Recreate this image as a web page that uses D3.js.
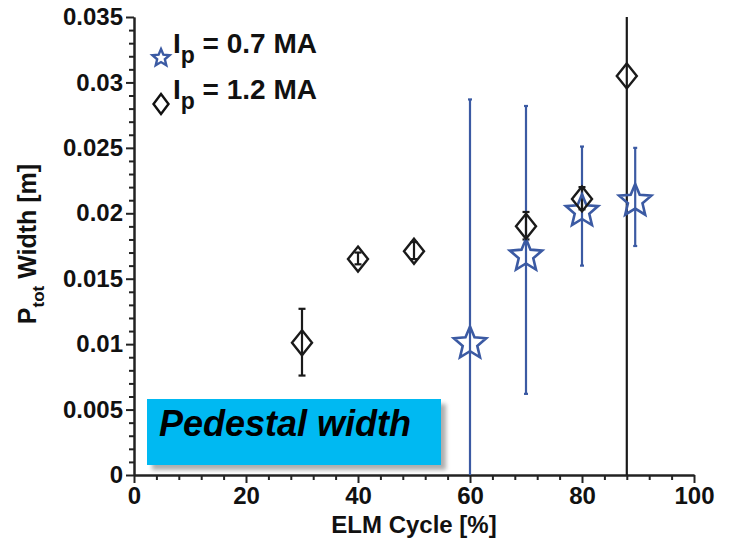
<!DOCTYPE html>
<html><head><meta charset="utf-8">
<script src="https://cdn.jsdelivr.net/npm/d3@7"></script>
<style>
html,body{margin:0;padding:0;background:#fff;}
svg text{font-family:"Liberation Sans",Arial,Helvetica,sans-serif;font-weight:bold;}
</style></head><body>
<svg id="c" width="729" height="545"></svg>
<script>
// ---- data ----
const diamondX  = [30, 40, 50, 70, 80, 88];
const diamondY  = [0.0101, 0.0165, 0.0171, 0.0190, 0.0211, 0.0305];
const diamondLo = [0.0076, 0.0161, 0.0165, 0.0180, 0.0203, 0.0];
const diamondHi = [0.0127, 0.0170, 0.0178, 0.0201, 0.0220, 0.035];
const starX  = [60, 70, 80, 89.5];
const starY  = [0.0102, 0.0169, 0.0203, 0.0211];
const starLo = [0.0, 0.0062, 0.0160, 0.0175];
const starHi = [0.0287, 0.0282, 0.0251, 0.0250];
const xTicks = [0, 20, 40, 60, 80, 100];
const yTicks = [0, 0.005, 0.01, 0.015, 0.02, 0.025, 0.03, 0.035];
const yTickLabels = ["0", "0.005", "0.01", "0.015", "0.02", "0.025", "0.03", "0.035"];
const legendLabels = ["0.7 MA", "1.2 MA"];
const annotation = "Pedestal width";

const blue = "#3b5aa3";
const svg = d3.select("#c");
const x = d3.scaleLinear().domain([0, 100]).range([134, 694]);
const y = d3.scaleLinear().domain([0, 0.035]).range([475, 17]);

// axes
const xMinor = d3.range(0, 101, 4).filter(v => xTicks.indexOf(v) < 0);
const yMinor = d3.range(0, 36, 1).map(v => v / 1000).filter(v => !yTicks.some(t => Math.abs(t - v) < 1e-9));

const gx = svg.append("g").attr("transform", `translate(0,${y(0)})`);
gx.call(d3.axisBottom(x).tickValues(xMinor).tickSize(5).tickFormat("").tickSizeOuter(0));
gx.call(g => g.append("g").call(d3.axisBottom(x).tickValues(xTicks).tickSize(8).tickPadding(4).tickSizeOuter(0)));
gx.selectAll("text").attr("font-size", 24).attr("fill", "#111").attr("font-family", "Liberation Sans, Arial").attr("font-weight", "bold");
gx.selectAll("path,line").attr("stroke", "#222").attr("stroke-width", 2);

const gy = svg.append("g").attr("transform", `translate(${x(0)},0)`);
gy.call(d3.axisLeft(y).tickValues(yMinor).tickSize(5).tickFormat("").tickSizeOuter(0));
gy.call(g => g.append("g").call(d3.axisLeft(y).tickValues(yTicks).tickSize(8).tickPadding(3)
   .tickFormat((d, i) => yTickLabels[i]).tickSizeOuter(0)));
gy.selectAll("text").attr("font-size", 24).attr("fill", "#111").attr("font-family", "Liberation Sans, Arial").attr("font-weight", "bold");
gy.selectAll("path,line").attr("stroke", "#222").attr("stroke-width", 2);

// axis titles
svg.append("text").attr("x", (x(0) + x(100)) / 2).attr("y", 533).attr("text-anchor", "middle")
  .attr("font-size", 24).attr("fill", "#111").text("ELM Cycle [%]");
const yt = svg.append("text").attr("transform", `translate(36,${(y(0) + y(0.035)) / 2 - 2}) rotate(-90)`)
  .attr("text-anchor", "middle").attr("font-size", 25).attr("fill", "#111");
yt.append("tspan").text("P");
yt.append("tspan").attr("font-size", 17).attr("dy", 8).text("tot");
yt.append("tspan").attr("dy", -8).text(" Width [m]");

// annotation box
const bx = 147, byTop = 399, bw = 294, bh = 66;
svg.append("rect").attr("x", bx + 5).attr("y", byTop + 5).attr("width", bw).attr("height", bh)
  .attr("fill", "#9a9a9a").attr("opacity", 0.8).style("filter", "blur(2px)");
svg.append("rect").attr("x", bx).attr("y", byTop).attr("width", bw).attr("height", bh).attr("fill", "#00b9f2");
svg.append("text").attr("x", bx + 12).attr("y", byTop + 37).attr("font-size", 36)
  .attr("font-style", "italic").attr("fill", "#000").text(annotation);

// star path
function starPath(r) {
  const ri = r * 0.45, p = d3.path();
  for (let i = 0; i < 10; i++) {
    const a = -Math.PI / 2 + i * Math.PI / 5, rr = i % 2 ? ri : r;
    if (i === 0) p.moveTo(rr * Math.cos(a), rr * Math.sin(a)); else p.lineTo(rr * Math.cos(a), rr * Math.sin(a));
  }
  p.closePath();
  return p.toString();
}
function diamondPath(w, h) {
  return `M0,${-h}L${w},0L0,${h}L${-w},0Z`;
}

// error bars
function errBars(xs, lo, hi, color, cap) {
  const g = svg.append("g").attr("stroke", color).attr("stroke-width", 2.2);
  xs.forEach((xv, i) => {
    g.append("line").attr("x1", x(xv)).attr("x2", x(xv)).attr("y1", y(lo[i])).attr("y2", y(hi[i]));
    if (hi[i] < 0.035) g.append("line").attr("x1", x(xv) - cap).attr("x2", x(xv) + cap).attr("y1", y(hi[i])).attr("y2", y(hi[i]));
    if (lo[i] > 0) g.append("line").attr("x1", x(xv) - cap).attr("x2", x(xv) + cap).attr("y1", y(lo[i])).attr("y2", y(lo[i]));
  });
}
errBars(starX, starLo, starHi, blue, 2);
errBars(diamondX, diamondLo, diamondHi, "#1a1a1a", 3.5);

// markers
svg.append("g").selectAll("path").data(starX).join("path")
  .attr("d", starPath(17)).attr("transform", (d, i) => `translate(${x(d)},${y(starY[i]) + 2})`)
  .attr("fill", "none").attr("stroke", blue).attr("stroke-width", 2.6).attr("stroke-linejoin", "miter");
svg.append("g").selectAll("path").data(diamondX).join("path")
  .attr("d", diamondPath(10, 12.5)).attr("transform", (d, i) => `translate(${x(d)},${y(diamondY[i])})`)
  .attr("fill", "none").attr("stroke", "#1a1a1a").attr("stroke-width", 2.4);

// legend
const lg = svg.append("g");
lg.append("path").attr("d", starPath(9)).attr("transform", "translate(161,58)")
  .attr("fill", "none").attr("stroke", blue).attr("stroke-width", 2.4);
lg.append("path").attr("d", diamondPath(7.5, 10)).attr("transform", "translate(161,104)")
  .attr("fill", "none").attr("stroke", "#111").attr("stroke-width", 2.4);
[[53, legendLabels[0]], [99, legendLabels[1]]].forEach(([yy, lab]) => {
  const t = lg.append("text").attr("x", 173).attr("y", yy).attr("font-size", 28).attr("fill", "#111");
  t.append("tspan").text("I");
  t.append("tspan").attr("font-size", 23).attr("dy", 10).text("p");
  t.append("tspan").attr("dy", -10).text(" = " + lab);
});
</script>
</body></html>
